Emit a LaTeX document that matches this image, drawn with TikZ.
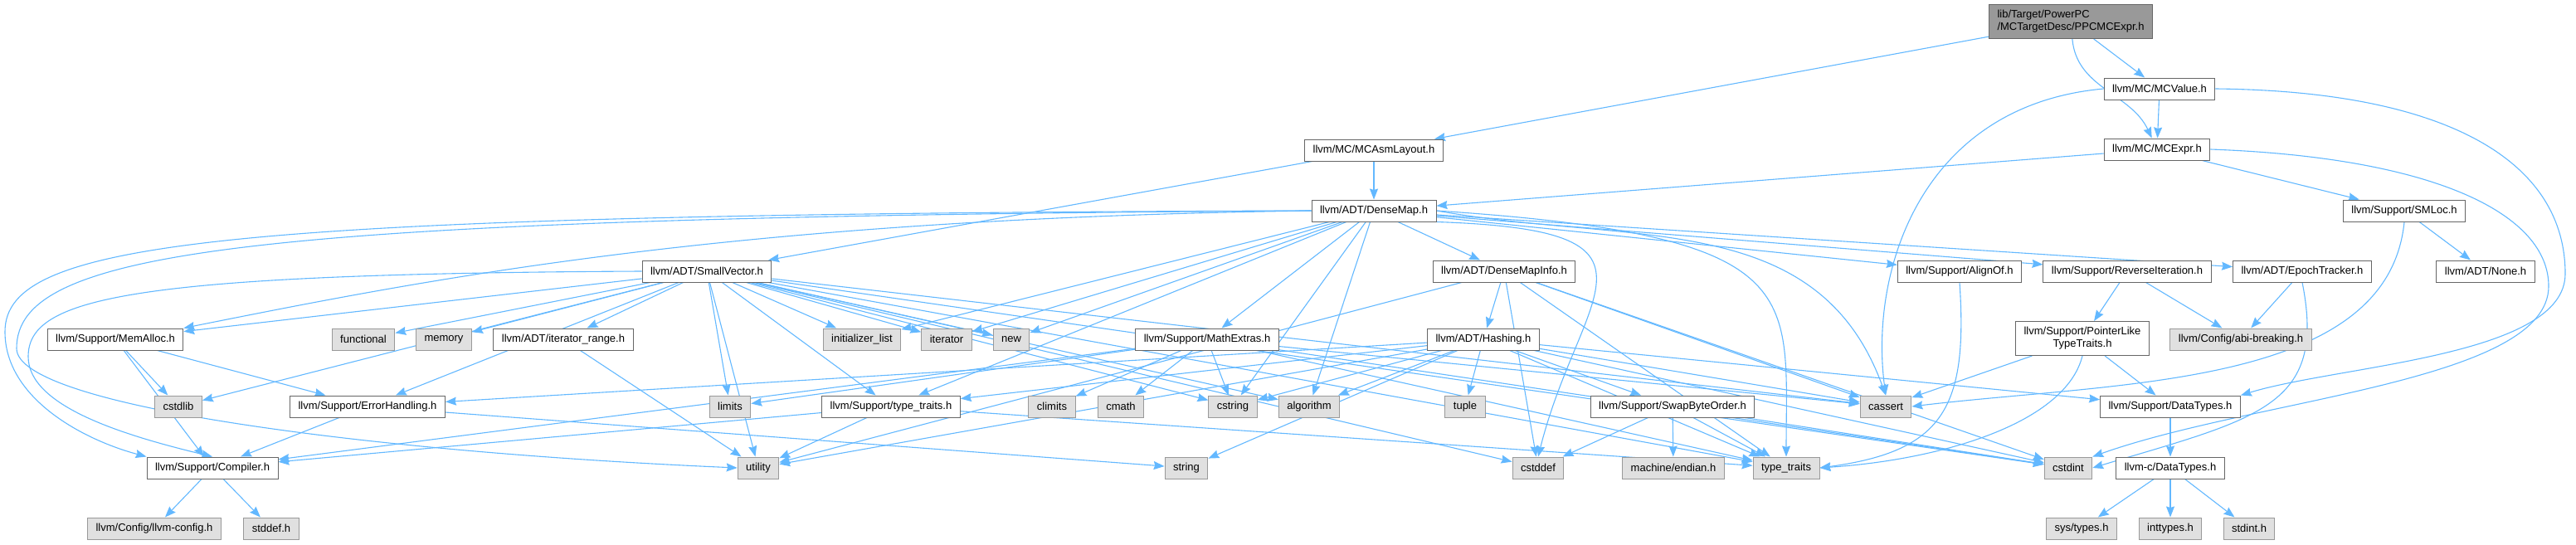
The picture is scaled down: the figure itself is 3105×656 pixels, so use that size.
\documentclass[tikz,border=0pt]{standalone}
\usepackage{fontspec}
\setmainfont{Liberation Sans}
\usepackage{tikz}
\usetikzlibrary{
  arrows.meta,  % Stealth 箭头
  backgrounds   % 连线放在节点下层
}
\definecolor{linkblue}{HTML}{63B8FF}
\definecolor{hdrline}{HTML}{666666}
\definecolor{sysline}{HTML}{999999}
\definecolor{sysfill}{HTML}{E0E0E0}
\definecolor{rootfill}{HTML}{999999}

\begin{document}
\begin{tikzpicture}[>={Stealth[length=13pt,width=10pt,inset=1.5pt]}, x=1pt, y=1pt,
  hdr/.style={draw=hdrline, fill=white, line width=1pt, inner xsep=10pt,
    inner ysep=0pt, minimum height=26pt, font=\fontsize{13}{15}\selectfont},
  sys/.style={hdr, draw=sysline, fill=sysfill},
  root/.style={hdr, fill=rootfill, align=left, minimum height=41pt},
  dep/.style={->, draw=linkblue, line width=1.1pt}]
  \useasboundingbox (0,0) rectangle (3105,-656);

  % 被分析的头文件及其直接包含
  \node[root] (ppc) at (2496,-26) {lib/Target/PowerPC\\/MCTargetDesc/PPCMCExpr.h};
  \node[hdr] (mcvalue) at (2603,-107) {llvm/MC/MCValue.h};
  \node[hdr] (mcasmlayout) at (1656,-181) {llvm/MC/MCAsmLayout.h};
  \node[hdr] (mcexpr) at (2600,-180) {llvm/MC/MCExpr.h};
  \node[hdr] (densemap) at (1656,-254) {llvm/ADT/DenseMap.h};
  \node[hdr] (smloc) at (2898,-254) {llvm/Support/SMLoc.h};

  % 第三层
  \node[hdr] (smallvector) at (852,-327) {llvm/ADT/SmallVector.h};
  \node[hdr] (densemapinfo) at (1813,-327) {llvm/ADT/DenseMapInfo.h};
  \node[hdr] (alignof) at (2362,-327) {llvm/Support/AlignOf.h};
  \node[hdr] (reverseiter) at (2564,-327) {llvm/Support/ReverseIteration.h};
  \node[hdr] (epochtracker) at (2775,-327) {llvm/ADT/EpochTracker.h};
  \node[hdr] (noneh) at (2996,-327) {llvm/ADT/None.h};

  % 第四层
  \node[hdr] (memalloc) at (139,-409) {llvm/Support/MemAlloc.h};
  \node[sys] (functional) at (438,-409) {functional};
  \node[sys] (memory) at (535,-409) {memory};
  \node[hdr] (iterrange) at (679,-409) {llvm/ADT/iterator\_range.h};
  \node[sys] (initlist) at (1039,-409) {initializer\_list};
  \node[sys] (iterator) at (1141,-409) {iterator};
  \node[sys] (newh) at (1219,-409) {new};
  \node[hdr] (mathextras) at (1455,-409) {llvm/Support/MathExtras.h};
  \node[hdr] (hashing) at (1788,-409) {llvm/ADT/Hashing.h};
  \node[hdr, align=center, minimum height=41pt] (pointerlike) at (2510,-408)
    {llvm/Support/PointerLike\\TypeTraits.h};
  \node[sys] (abibreaking) at (2701,-409) {llvm/Config/abi-breaking.h};

  % 第五层
  \node[sys] (cstdlib) at (215,-490) {cstdlib};
  \node[hdr] (errorhandling) at (443,-490) {llvm/Support/ErrorHandling.h};
  \node[sys] (limits) at (880,-490) {limits};
  \node[hdr] (stypetraits) at (1074,-490) {llvm/Support/type\_traits.h};
  \node[sys] (climits) at (1268,-490) {climits};
  \node[sys] (cmath) at (1351,-490) {cmath};
  \node[sys] (cstring) at (1486,-490) {cstring};
  \node[sys] (algorithm) at (1578,-490) {algorithm};
  \node[sys] (tuple) at (1766,-490) {tuple};
  \node[hdr] (swapbyteorder) at (2016,-490) {llvm/Support/SwapByteOrder.h};
  \node[sys] (cassert) at (2273,-490) {cassert};
  \node[hdr] (datatypes) at (2616,-490) {llvm/Support/DataTypes.h};

  % 第六层
  \node[hdr] (compiler) at (256,-564) {llvm/Support/Compiler.h};
  \node[sys] (utility) at (914,-564) {utility};
  \node[sys] (string) at (1430,-564) {string};
  \node[sys] (cstddef) at (1854,-564) {cstddef};
  \node[sys] (machineendian) at (2017,-564) {machine/endian.h};
  \node[sys] (typetraits) at (2153,-564) {type\_traits};
  \node[sys] (cstdint) at (2493,-564) {cstdint};
  \node[hdr] (llvmcdatatypes) at (2616,-564) {llvm-c/DataTypes.h};

  % 最底层
  \node[sys] (llvmconfig) at (186,-637) {llvm/Config/llvm-config.h};
  \node[sys] (stddefh) at (327,-637) {stddef.h};
  \node[sys] (systypes) at (2509,-637) {sys/types.h};
  \node[sys] (inttypes) at (2616,-637) {inttypes.h};
  \node[sys] (stdinth) at (2711,-637) {stdint.h};

  \begin{pgfonlayer}{background}
  % 顶层包含
  \foreach \t in {mcasmlayout,mcvalue} \draw[dep] (ppc) -- (\t);
  \draw[dep] (ppc) to[out=-85,in=115] (mcexpr);

  % MCValue / MCAsmLayout / MCExpr / SMLoc
  \draw[dep] (mcvalue) -- (mcexpr);
  \draw[dep] (mcvalue.west) .. controls +(-220,-20) and +(-20,150) .. (cassert.north);
  \draw[dep] (mcvalue.east) .. controls (2960,-110) and (3092,-200) .. (3092,-330)
    .. controls (3092,-430) and (2820,-440) .. (datatypes.north east);
  \foreach \t in {densemap,smallvector} \draw[dep] (mcasmlayout) -- (\t);
  \foreach \t in {densemap,smloc} \draw[dep] (mcexpr) -- (\t);
  \draw[dep] (mcexpr.east) .. controls (2940,-190) and (3072,-260) .. (3072,-345)
    .. controls (3072,-460) and (2720,-480) .. (cstdint.north east);
  \draw[dep] (smloc) -- (noneh);
  \draw[dep] (smloc.south) .. controls +(-20,-200) and +(250,30) .. (cassert.east);

  % DenseMap
  \foreach \t in {densemapinfo,alignof,reverseiter,epochtracker,mathextras,
    initlist,iterator,newh,stypetraits,algorithm,cstring}
    \draw[dep] (densemap) -- (\t);
  \draw[dep] (densemap.west) .. controls +(-700,-10) and +(300,60) .. (memalloc.north east);
  \draw[dep] (densemap.west) .. controls (260,-258) and (6,-290) .. (6,-400)
    .. controls (6,-480) and (100,-530) .. (compiler.north west);
  \draw[dep] (densemap.west) .. controls (300,-262) and (20,-300) .. (20,-420)
    .. controls (20,-490) and (450,-545) .. (utility.west);
  \draw[dep] (densemap.east) .. controls +(236,-42) and +(-82,226) .. (cassert.north);
  \draw[dep] (densemap.south east) .. controls +(300,-10) and +(50,200) .. (cstddef.north);
  \draw[dep] (densemap.east) .. controls +(450,-30) and +(0,200) .. (typetraits.north);

  % SmallVector
  \foreach \t in {memalloc,functional,memory,iterrange,initlist,iterator,newh,
    limits,stypetraits,errorhandling,cstdlib,utility,algorithm,cstring,
    cassert,cstddef,typetraits,cstdint}
    \draw[dep] (smallvector) -- (\t);
  \draw[dep] (smallvector.west) .. controls (150,-330) and (34,-360) .. (34,-430)
    .. controls (34,-490) and (150,-525) .. (compiler.north);

  % DenseMapInfo, MathExtras, Hashing
  \foreach \t in {hashing,utility,cstddef,cassert,cstdint,typetraits}
    \draw[dep] (densemapinfo) -- (\t);
  \foreach \t in {compiler,limits,climits,cmath,cstring,cassert,cstdint,typetraits}
    \draw[dep] (mathextras) -- (\t);
  \foreach \t in {errorhandling,stypetraits,cstring,algorithm,tuple,swapbyteorder,
    cassert,string,utility,cstdint,typetraits,datatypes}
    \draw[dep] (hashing) -- (\t);

  % 其余支持头文件
  \foreach \t in {cstddef,machineendian,typetraits,cstdint}
    \draw[dep] (swapbyteorder) -- (\t);
  \foreach \t in {compiler,utility,typetraits} \draw[dep] (stypetraits) -- (\t);
  \foreach \t in {compiler,string} \draw[dep] (errorhandling) -- (\t);
  \foreach \t in {compiler,errorhandling,cstdlib} \draw[dep] (memalloc) -- (\t);
  \draw[dep] (iterrange) -- (utility);
  \foreach \t in {llvmconfig,stddefh} \draw[dep] (compiler) -- (\t);
  \draw[dep] (alignof.south) .. controls +(10,-150) and +(150,20) .. (typetraits.east);
  \foreach \t in {pointerlike,abibreaking} \draw[dep] (reverseiter) -- (\t);
  \foreach \t in {cassert,datatypes} \draw[dep] (pointerlike) -- (\t);
  \draw[dep] (pointerlike.south) .. controls +(-20,-80) and +(150,10) .. (typetraits.east);
  \draw[dep] (epochtracker) -- (abibreaking);
  \draw[dep] (epochtracker.south) .. controls +(30,-150) and +(200,60) .. (cstdint.east);
  \draw[dep] (datatypes) -- (llvmcdatatypes);
  \foreach \t in {systypes,inttypes,stdinth} \draw[dep] (llvmcdatatypes) -- (\t);
  \end{pgfonlayer}
\end{tikzpicture}
\end{document}
